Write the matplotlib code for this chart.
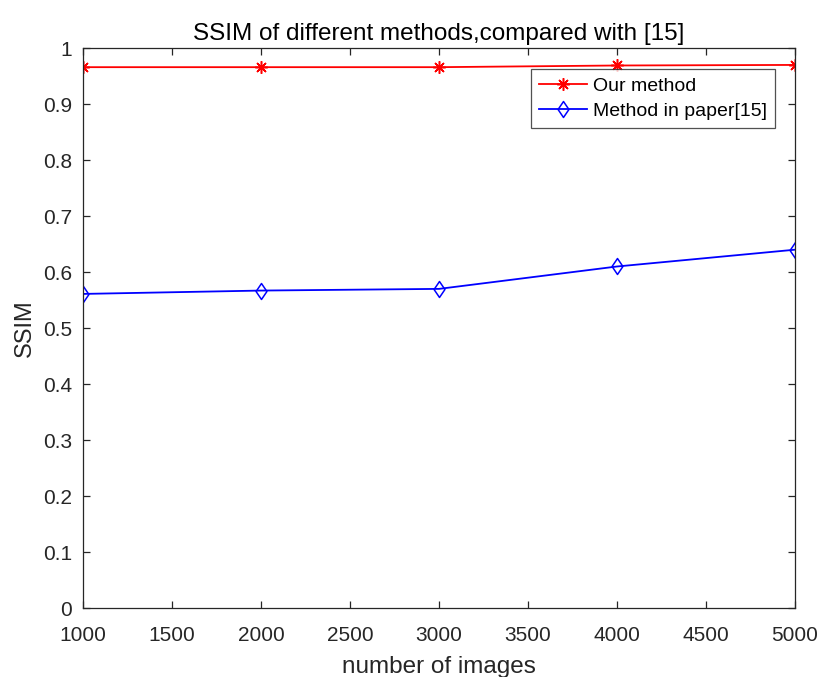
import matplotlib
matplotlib.use('Agg')
import matplotlib.pyplot as plt
from matplotlib.path import Path

# data
n_images = [1000, 2000, 3000, 4000, 5000]
ssim_ours = [0.966, 0.966, 0.966, 0.969, 0.970]
ssim_paper15 = [0.561, 0.567, 0.570, 0.610, 0.640]

plt.rcParams['font.family'] = ['Liberation Sans', 'DejaVu Sans']
dark = '#262626'

# matlab style diamond, taller than wide
diamond = Path([(0, 1), (0.68, 0), (0, -1), (-0.68, 0), (0, 1)],
               [Path.MOVETO, Path.LINETO, Path.LINETO, Path.LINETO, Path.CLOSEPOLY])

fig = plt.figure(figsize=(8.17, 6.77), dpi=100)
ax = fig.add_axes([0.1016, 0.1019, 0.8715, 0.827])

ax.plot(n_images, ssim_ours, color='#ff0000', marker=(8, 2, 0), markersize=9,
        markeredgewidth=1.1, linewidth=1.3, label='Our method')
ax.plot(n_images, ssim_paper15, color='#0000ff', marker=diamond, markersize=11.5,
        markerfacecolor='none', markeredgewidth=1.1, linewidth=1.3,
        label='Method in paper[15]')

ax.set_xlim(1000, 5000)
ax.set_ylim(0, 1)
ax.set_xticks(range(1000, 5001, 500))
ax.set_yticks([i / 10 for i in range(11)])
ax.set_yticklabels(['0', '0.1', '0.2', '0.3', '0.4', '0.5', '0.6', '0.7', '0.8', '0.9', '1'])
ax.tick_params(direction='in', top=True, right=True, labelsize=15, colors=dark,
               length=5, width=0.9)
ax.tick_params(axis='x', pad=13)
ax.tick_params(axis='y', pad=8)
for s in ax.spines.values():
    s.set_color(dark)
    s.set_linewidth(0.9)

ax.set_xlabel('number of images', fontsize=17.5, color=dark, labelpad=8)
ax.set_ylabel('SSIM', fontsize=17, color=dark, labelpad=5)
ax.set_title('SSIM of different methods,compared with [15]', fontsize=17.5,
             color='black', pad=6)

leg = ax.legend(loc='upper left', bbox_to_anchor=(0.629, 0.9625), borderaxespad=0,
                fontsize=14, frameon=True, fancybox=False, edgecolor=dark,
                handlelength=2.5, handletextpad=0.3, borderpad=0.4,
                labelspacing=0.4)
leg.get_frame().set_linewidth(0.9)

fig.savefig('out.png', dpi=100)
